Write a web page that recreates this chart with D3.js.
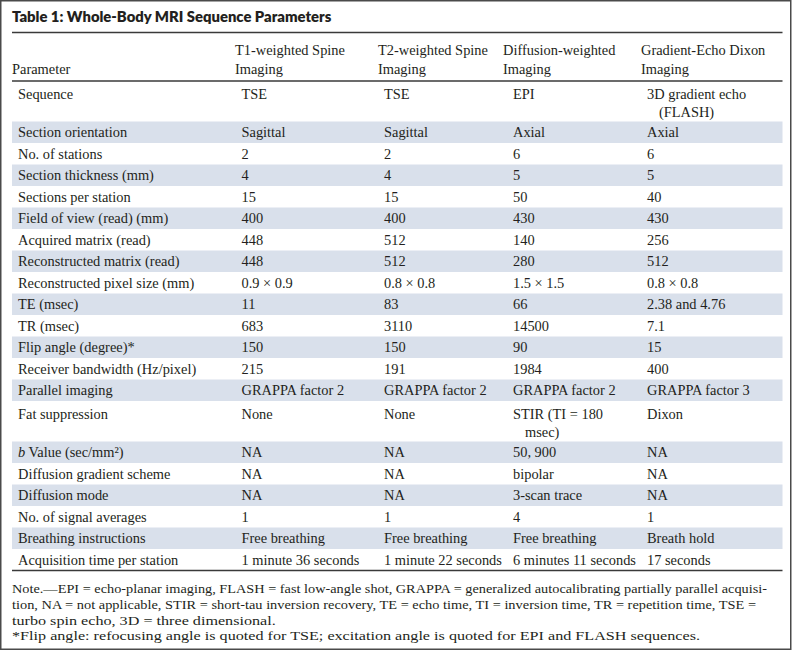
<!DOCTYPE html>
<html><head><meta charset="utf-8">
<script src="https://cdn.jsdelivr.net/npm/d3@7"></script>
<style>
html,body{margin:0;padding:0;background:#fff;}
svg{display:block;}
</style></head><body>
<svg id="c" width="793" height="654"></svg>
<script>
// ---------------- DATA ----------------
const title = "Table 1: Whole-Body MRI Sequence Parameters";
const columnHeaders = ["Parameter", "T1-weighted Spine Imaging", "T2-weighted Spine Imaging", "Diffusion-weighted Imaging", "Gradient-Echo Dixon Imaging"];
const parameters = ["Sequence", "Section orientation", "No. of stations", "Section thickness (mm)", "Sections per station",
  "Field of view (read) (mm)", "Acquired matrix (read)", "Reconstructed matrix (read)", "Reconstructed pixel size (mm)",
  "TE (msec)", "TR (msec)", "Flip angle (degree)*", "Receiver bandwidth (Hz/pixel)", "Parallel imaging", "Fat suppression",
  "b Value (sec/mm²)", "Diffusion gradient scheme", "Diffusion mode", "No. of signal averages", "Breathing instructions",
  "Acquisition time per station"];
const t1Values = ["TSE", "Sagittal", "2", "4", "15", "400", "448", "448", "0.9 × 0.9", "11", "683", "150", "215",
  "GRAPPA factor 2", "None", "NA", "NA", "NA", "1", "Free breathing", "1 minute 36 seconds"];
const t2Values = ["TSE", "Sagittal", "2", "4", "15", "400", "512", "512", "0.8 × 0.8", "83", "3110", "150", "191",
  "GRAPPA factor 2", "None", "NA", "NA", "NA", "1", "Free breathing", "1 minute 22 seconds"];
const dwiValues = ["EPI", "Axial", "6", "5", "50", "430", "140", "280", "1.5 × 1.5", "66", "14500", "90", "1984",
  "GRAPPA factor 2", "STIR (TI = 180 msec)", "50, 900", "bipolar", "3-scan trace", "4", "Free breathing", "6 minutes 11 seconds"];
const dixonValues = ["3D gradient echo (FLASH)", "Axial", "6", "5", "40", "430", "256", "512", "0.8 × 0.8", "2.38 and 4.76",
  "7.1", "15", "400", "GRAPPA factor 3", "Dixon", "NA", "NA", "NA", "1", "Breath hold", "17 seconds"];
const noteLines = [
  "Note.—EPI = echo-planar imaging, FLASH = fast low-angle shot, GRAPPA = generalized autocalibrating partially parallel acquisi-",
  "tion, NA = not applicable, STIR = short-tau inversion recovery, TE = echo time, TI = inversion time, TR = repetition time, TSE =",
  "turbo spin echo, 3D = three dimensional.",
  "*Flip angle: refocusing angle is quoted for TSE; excitation angle is quoted for EPI and FLASH sequences."
];

// ---------------- LAYOUT ----------------
const columns = [parameters, t1Values, t2Values, dwiValues, dixonValues];
// words kept on the first line for cells that wrap in the printed table
const firstLineWords = {"STIR (TI = 180 msec)": 4, "3D gradient echo (FLASH)": 3};
const headerFirstLineWords = {"T1-weighted Spine Imaging": 2, "T2-weighted Spine Imaging": 2,
  "Diffusion-weighted Imaging": 1, "Gradient-Echo Dixon Imaging": 2};

const svg = d3.select("#c");
const serif = "'Liberation Serif', 'Times New Roman', serif";
const sans = "Lato, 'Open Sans', sans-serif";
const ink = "#231f20";
const stripeFill = "#d9e0eb";
const ruleColor = "#3a3a3a";
const left = 12, right = 782.5;

const meas = svg.append("text").attr("visibility", "hidden");
function textW(str, size, family, weight) {
  meas.attr("font-family", family).attr("font-size", size).attr("font-weight", weight || 400).text(str);
  return meas.node().getComputedTextLength();
}
const bodySize = 100 * ((177.7 / textW("Receiver bandwidth (Hz/pixel)", 100, serif)) +
                        (161 / textW("Acquisition time per station", 100, serif))) / 2;
const noteSize = 13;
const titleSize = 100 * 319.5 / textW(title, 100, sans, 800);

function split(str, map) {
  const n = map[str];
  if (!n) return [str];
  const w = str.split(" ");
  return [w.slice(0, n).join(" "), w.slice(n).join(" ")];
}

const headerX = d3.scaleOrdinal().domain(d3.range(5)).range([12, 235, 378, 503, 641]);
const bodyX = d3.scaleOrdinal().domain(d3.range(5)).range([18, 241.5, 384, 513, 647]);
const hangIndent = 12;

// frame
svg.append("rect").attr("x", 0.75).attr("y", 0.75).attr("width", 790).attr("height", 648.5)
  .attr("fill", "none").attr("stroke", "#4a4a4a").attr("stroke-width", 1.5);

// title
svg.append("text").attr("x", left).attr("y", 21.5)
  .attr("font-family", sans).attr("font-weight", 800).attr("font-size", titleSize)
  .attr("fill", ink).text(title);

// rows geometry
const rowH = 21.5, lineGap = 19, bodyTop = 81;
const rowLines = parameters.map((p, i) => columns.map(col => split(col[i], firstLineWords)));
const rowCount = rowLines.map(r => d3.max(r, l => l.length));
const rowTop = [];
let acc = bodyTop;
rowCount.forEach(n => { rowTop.push(acc); acc += rowH + (n - 1) * lineGap; });
const bodyBottom = acc;
const rowHeight = rowCount.map(n => rowH + (n - 1) * lineGap);
const firstBase = rowCount.map(n => n > 1 ? 17.5 : 15.8);

// stripes
svg.append("g").selectAll("rect").data(parameters.map((p, i) => i).filter(i => i % 2 === 1))
  .join("rect")
  .attr("x", left).attr("width", right - left)
  .attr("y", i => rowTop[i]).attr("height", i => rowHeight[i])
  .attr("fill", stripeFill);

// rules
const rules = [32.5, bodyTop, bodyBottom];
svg.append("g").selectAll("line").data(rules).join("line")
  .attr("x1", left).attr("x2", right).attr("y1", d => d).attr("y2", d => d)
  .attr("stroke", ruleColor).attr("stroke-width", 1.3);

// header
const hdr = svg.append("g").attr("font-family", serif).attr("font-size", bodySize).attr("fill", ink);
columnHeaders.forEach((h, c) => {
  const lines = split(h, headerFirstLineWords);
  const base = [54.5, 73.5];
  const start = 2 - lines.length;
  lines.forEach((ln, k) => {
    hdr.append("text").attr("x", headerX(c)).attr("y", base[start + k]).text(ln);
  });
});

// body cells
const body = svg.append("g").attr("font-family", serif).attr("font-size", bodySize).attr("fill", ink);
rowLines.forEach((cells, i) => {
  cells.forEach((lines, c) => {
    lines.forEach((ln, k) => {
      const t = body.append("text")
        .attr("x", bodyX(c) + (k > 0 ? hangIndent : 0))
        .attr("y", rowTop[i] + firstBase[i] + k * (rowCount[i] > 1 ? 18 : lineGap));
      if (c === 0 && ln.startsWith("b Value")) {
        t.append("tspan").attr("font-style", "italic").text("b");
        t.append("tspan").text(ln.slice(1));
      } else {
        t.text(ln);
      }
    });
  });
});

// notes (first two lines are justified in the print; the face is wider than the fallback serif)
const noteBase = [592.5, 608.5, 624.5, 640];
const stretch = 688 / textW(noteLines[3], noteSize, serif);
const lineLen = [755, 744, textW(noteLines[2], noteSize, serif) * stretch, 688];
const nt = svg.append("g").attr("font-family", serif).attr("font-size", noteSize).attr("fill", ink);
noteLines.forEach((ln, k) => {
  nt.append("text").attr("x", left).attr("y", noteBase[k])
    .attr("textLength", lineLen[k]).attr("lengthAdjust", "spacingAndGlyphs").text(ln);
});
meas.remove();
</script>
</body></html>
